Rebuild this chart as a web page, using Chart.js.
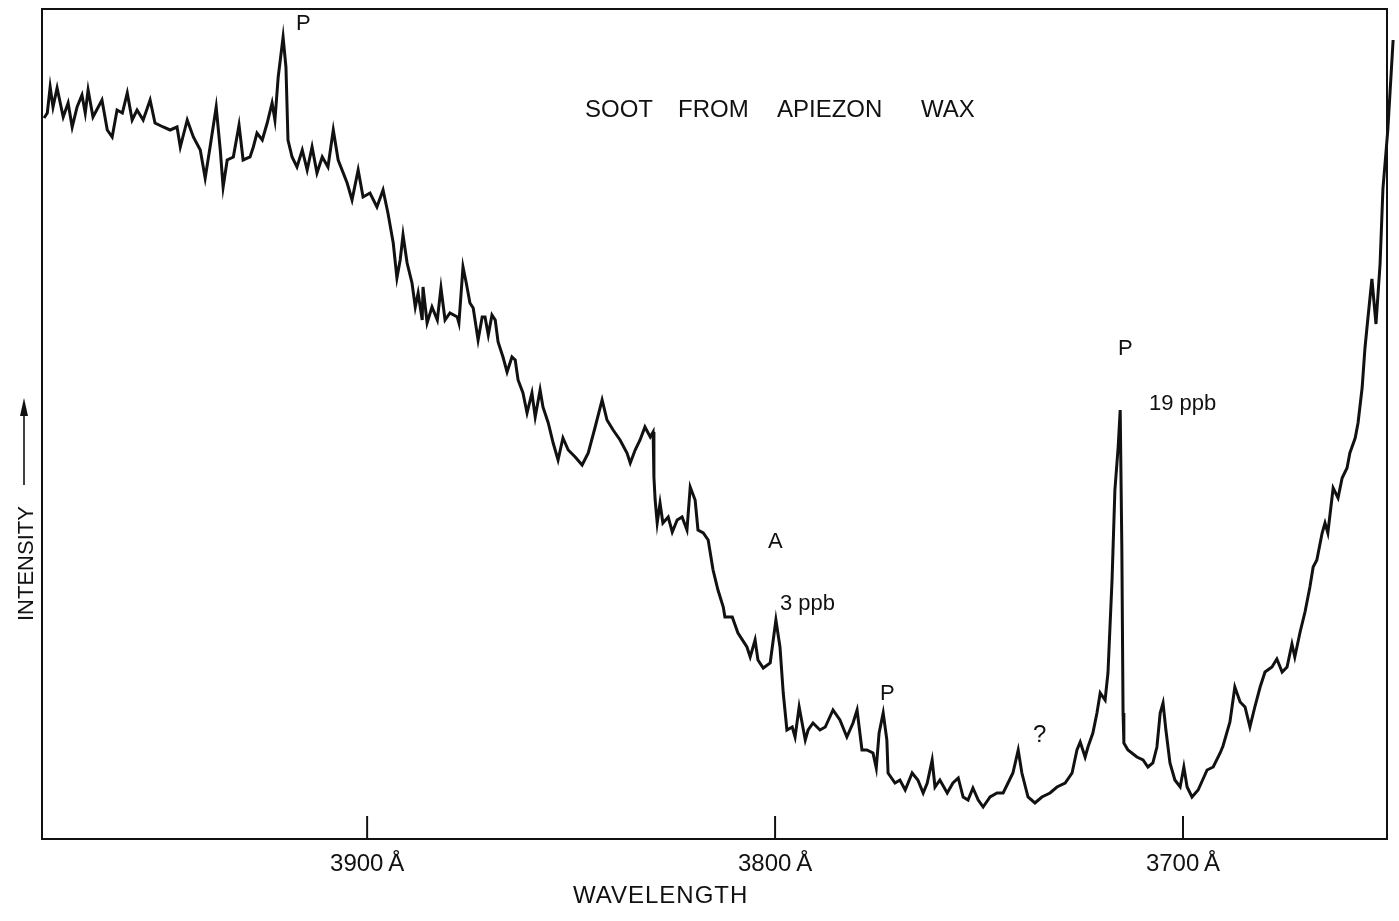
<!DOCTYPE html>
<html>
<head>
<meta charset="utf-8">
<script src="https://cdn.jsdelivr.net/npm/chart.js@4.4.0/dist/chart.umd.min.js"></script>
<style>
  html, body { margin: 0; padding: 0; background: #fff; }
  #wrap { width: 1399px; height: 921px; position: relative; }
</style>
</head>
<body>
<div id="wrap"><canvas id="c" width="1399" height="921"></canvas></div>
<script>
// Wavelength (Å) of each traced point
const wavelengths = [
  3979.2,3978.4,3977.7,3977.0,3976.0,3974.5,3973.3,3972.3,3971.1,3969.9,
  3969.1,3968.4,3967.2,3965.0,3963.7,3962.5,3961.3,3960.0,3958.8,3957.6,
  3956.4,3954.9,3953.2,3952.0,3950.0,3948.3,3946.6,3945.8,3944.1,3942.6,
  3940.9,3939.7,3938.5,3937.0,3936.0,3935.3,3934.3,3932.8,3931.4,3930.4,
  3928.7,3927.9,3927.0,3925.7,3924.5,3923.3,3922.6,3921.8,3920.6,3919.9,
  3919.4,3918.4,3917.2,3915.9,3914.7,3913.5,3912.3,3911.0,3909.6,3908.3,
  3907.1,3904.9,3903.7,3902.2,3901.0,3899.3,3897.6,3896.1,3894.9,3893.6,
  3892.7,3891.9,3891.2,3890.2,3889.0,3888.2,3887.5,3886.5,3886.3,3885.3,
  3884.1,3882.8,3881.9,3880.9,3879.7,3877.9,3877.5,3876.5,3875.7,3874.8,
  3874.0,3872.8,3871.8,3871.1,3870.3,3869.4,3868.6,3867.9,3866.7,3865.7,
  3864.5,3863.7,3863.0,3861.8,3860.8,3859.6,3858.8,3857.6,3856.9,3855.6,
  3854.4,3853.2,3852.0,3850.7,3849.0,3847.3,3845.8,3844.1,3842.4,3841.2,
  3839.7,3838.0,3836.3,3835.5,3834.3,3833.1,3831.9,3830.6,3829.9,3829.7,
  3829.4,3828.9,3828.2,3827.5,3826.2,3825.2,3824.0,3822.8,3821.6,3820.8,
  3819.6,3818.9,3817.6,3816.4,3815.2,3814.0,3812.7,3812.3,3810.5,3809.1,
  3806.9,3806.1,3804.9,3804.2,3802.9,3801.2,3799.8,3798.8,3798.0,3797.1,
  3795.8,3795.1,3794.1,3792.6,3791.9,3790.7,3789.0,3787.7,3785.8,3784.1,
  3782.4,3780.9,3779.9,3778.7,3777.5,3776.0,3775.2,3774.5,3773.5,3772.6,
  3772.3,3770.6,3769.4,3768.1,3766.4,3765.0,3763.7,3762.7,3761.5,3760.8,
  3759.6,3757.8,3756.4,3755.1,3753.9,3752.7,3751.5,3750.2,3749.0,3747.3,
  3745.6,3744.1,3742.9,3741.7,3740.4,3739.5,3738.0,3736.3,3734.6,3732.6,
  3730.9,3728.9,3727.2,3726.0,3725.2,3724.0,3723.3,3722.1,3721.1,3720.3,
  3719.1,3718.4,3717.4,3716.7,3715.9,3715.4,3715.0,3714.7,3714.5,3713.5,
  3711.3,3709.8,3708.6,3707.4,3706.4,3705.6,3704.9,3704.2,3703.2,3702.0,
  3700.7,3699.8,3699.0,3697.8,3696.3,3694.1,3692.6,3690.9,3690.2,3688.5,
  3687.3,3686.0,3684.8,3683.6,3682.4,3681.1,3679.9,3678.2,3677.0,3675.7,
  3674.5,3673.3,3672.6,3671.3,3670.1,3668.9,3668.1,3667.2,3665.9,3665.2,
  3664.5,3663.2,3662.0,3661.0,3659.8,3659.1,3657.8,3657.1,3656.1,3655.4,
  3654.7,3653.7,3652.7,3651.7,3651.0,3649.8,3648.5
];
// Intensity (arbitrary units) of each traced point
const intensity = [
  721,726,752,732,751,722,736,712,732,744,
  726,749,722,739,709,702,729,726,746,719,
  729,719,739,716,712,709,712,692,719,702,
  689,661,692,732,689,652,679,682,714,679,
  682,692,706,699,716,736,719,762,802,772,
  699,682,672,689,669,692,666,682,672,709,
  679,656,639,669,642,646,632,649,626,596,
  561,579,604,576,556,532,546,519,552,516,
  532,519,551,519,526,522,516,572,556,536,
  531,499,522,522,504,524,519,497,482,467,
  482,479,459,446,426,446,422,449,432,416,
  396,379,401,389,382,374,386,412,439,419,
  409,399,386,376,389,399,412,402,407,362,
  339,316,336,316,322,307,319,322,309,352,
  339,309,306,299,269,249,232,222,222,206,
  192,182,199,179,171,176,219,192,146,109,
  112,102,132,99,109,116,109,112,129,119,
  102,116,129,89,89,86,71,106,126,99,
  66,56,59,49,66,59,46,56,79,52,
  59,46,56,61,42,39,51,39,32,42,
  46,46,56,66,89,66,42,36,42,46,
  52,56,66,89,97,82,92,106,126,146,
  139,166,259,349,392,429,292,126,96,89,
  82,79,72,76,92,126,136,109,76,59,
  52,72,52,42,49,69,72,86,93,117,
  152,137,132,112,132,152,167,172,180,167,
  172,195,182,207,227,252,272,279,306,316,
  306,351,341,361,371,386,401,416,451,491,
  520,560,515,575,650,709,799
];
// Axis tick labels (Å)
const tickValues = [3900, 3800, 3700];
const xMin = 3650, xMax = 3979.7, yMin = 0, yMax = 830;

const FONT = '"Liberation Sans", Arial, sans-serif';

const decor = {
  id: 'decor',
  afterDatasetsDraw(chart) {
    const ctx = chart.ctx;
    const a = chart.chartArea;
    const xs = chart.scales.x;
    ctx.save();
    ctx.strokeStyle = '#111';
    ctx.fillStyle = '#111';
    ctx.lineWidth = 2;
    // frame
    ctx.strokeRect(a.left, a.top, a.right - a.left, a.bottom - a.top);
    // inward tick marks
    tickValues.forEach(v => {
      const px = xs.getPixelForValue(v);
      ctx.beginPath();
      ctx.moveTo(px, a.bottom);
      ctx.lineTo(px, a.bottom - 23);
      ctx.stroke();
    });
    // annotations
    const txt = (s, x, y, size) => {
      ctx.font = size + 'px ' + FONT;
      ctx.textAlign = 'left';
      ctx.textBaseline = 'alphabetic';
      ctx.fillText(s, x, y);
    };
    txt('P', 296, 30, 22);
    txt('SOOT', 585, 117, 24);
    txt('FROM', 678, 117, 24);
    txt('APIEZON', 777, 117, 24);
    txt('WAX', 921, 117, 24);
    txt('P', 1118, 355, 22);
    txt('19 ppb', 1149, 410, 22);
    txt('A', 768, 548, 22);
    txt('3 ppb', 780, 610, 22);
    txt('P', 880, 700, 22);
    txt('?', 1033, 742, 24);
    // x axis title
    ctx.letterSpacing = '1px';
    txt('WAVELENGTH', 573, 903, 24);
    ctx.letterSpacing = '0px';
    // y axis title (rotated) and arrow
    ctx.save();
    ctx.translate(33, 621);
    ctx.rotate(-Math.PI / 2);
    txt('INTENSITY', 0, 0, 22);
    ctx.restore();
    ctx.lineWidth = 1.6;
    ctx.beginPath();
    ctx.moveTo(24, 485);
    ctx.lineTo(24, 410);
    ctx.stroke();
    ctx.beginPath();
    ctx.moveTo(24, 398);
    ctx.lineTo(20, 416);
    ctx.lineTo(28, 416);
    ctx.closePath();
    ctx.fill();
    ctx.restore();
  }
};

new Chart(document.getElementById('c'), {
  type: 'line',
  data: {
    datasets: [{
      data: wavelengths.map((w, i) => ({ x: w, y: intensity[i] })),
      borderColor: '#111',
      borderWidth: 3,
      pointRadius: 0,
      tension: 0,
      fill: false,
      clip: false
    }]
  },
  options: {
    responsive: false,
    animation: false,
    devicePixelRatio: 1,
    layout: { padding: { left: 42, right: 12, top: 9, bottom: 0 } },
    plugins: { legend: { display: false }, tooltip: { enabled: false } },
    scales: {
      x: {
        type: 'linear',
        reverse: true,
        min: xMin,
        max: xMax,
        grid: { display: false, drawTicks: false },
        border: { display: false },
        afterBuildTicks: s => { s.ticks = tickValues.map(v => ({ value: v })); },
        afterFit: s => { s.height = 82; },
        ticks: {
          color: '#111',
          font: { family: FONT, size: 24 },
          padding: 11,
          maxRotation: 0,
          autoSkip: false,
          callback: v => v + '\u2009Å'
        }
      },
      y: {
        type: 'linear',
        display: false,
        min: yMin,
        max: yMax
      }
    }
  },
  plugins: [decor]
});
</script>
</body>
</html>
